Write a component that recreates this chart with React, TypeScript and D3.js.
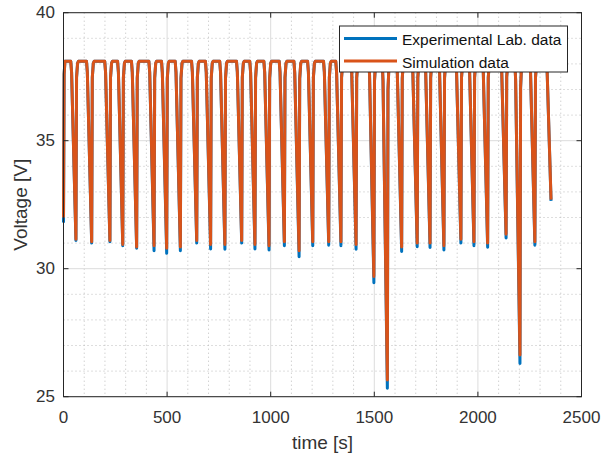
import React from "react";
import * as d3 from "d3";

// ---- data ----
const dipTimes = [60, 136, 224, 286, 353, 437, 498, 564, 643, 710, 779, 860, 924, 992, 1066, 1137, 1203, 1280, 1339, 1412, 1498, 1563, 1632, 1707, 1769, 1836, 1918, 1981, 2047, 2136, 2203, 2275];
const simMin = [31.15, 31.05, 31.1, 30.95, 30.85, 30.9, 30.8, 30.85, 31.1, 30.95, 30.95, 31.1, 30.95, 30.9, 31.05, 30.7, 31.05, 31.05, 31.05, 30.95, 29.7, 25.65, 30.85, 31.0, 31.0, 30.9, 31.15, 31.05, 31.0, 31.35, 26.63, 31.05];
const expMin = [31.1, 31.0, 31.05, 30.9, 30.8, 30.7, 30.6, 30.7, 31.0, 30.77, 30.76, 31.0, 30.77, 30.73, 30.9, 30.47, 30.9, 30.92, 30.9, 30.76, 29.45, 25.33, 30.67, 30.86, 30.83, 30.73, 31.0, 30.9, 30.84, 31.2, 26.3, 30.92];
const plateauV = 38.1;
const simStartV = 32.0;
const expStartV = 31.8;
const endTime = 2353;
const simEndV = 32.7;
const expEndV = 32.65;
// shape of one dip around its minimum: [time offset, fraction of the drop]
const dipShape: [number, number][] = [[-25, 0], [-21, 0.06], [0, 1], [3, 0.09], [8, 0.01], [12, 0]];

const xTicks = [0, 500, 1000, 1500, 2000, 2500];
const yTicks = [25, 30, 35, 40];
const seriesNames = ["Experimental Lab. data", "Simulation data"];
const seriesColors = ["#0072BD", "#D95319"];

function buildSeries(mins: number[], startV: number, endV: number): [number, number][] {
  const pts: [number, number][] = [[0, startV], [3, plateauV - 0.5], [7, plateauV]];
  dipTimes.forEach((t, i) => {
    const drop = plateauV - mins[i];
    dipShape.forEach(([dt, f]) => pts.push([t + dt, plateauV - drop * f]));
  });
  pts.push([endTime - 23, plateauV], [endTime - 19, plateauV - 0.35], [endTime, endV]);
  return pts;
}

export default function App() {
  const W = 604, H = 458;
  const L = 63.5, R = 581.5, T = 12.7, B = 396.7;
  const x = d3.scaleLinear().domain([0, 2500]).range([L, R]);
  const y = d3.scaleLinear().domain([25, 40]).range([B, T]);
  const line = d3.line<[number, number]>().x(d => x(d[0])).y(d => y(d[1]));
  const expPts = buildSeries(expMin, expStartV, expEndV);
  const simPts = buildSeries(simMin, simStartV, simEndV);
  const xMinor = d3.range(0, 2501, 100).filter(v => v % 500 !== 0);
  const yMinor = d3.range(25, 40.01, 1).filter(v => v % 5 !== 0);
  const axisColor = "#262626";
  const textColor = "#333";
  const font = "'Liberation Sans', Arial, sans-serif";
  const tl = 5;
  return (
    <svg width={W} height={H} style={{ position: "absolute", left: 0, top: 0, background: "#fff" }} fontFamily={font}>
      <rect x={0} y={0} width={W} height={H} fill="#fff" />
      {/* minor grid */}
      {xMinor.map(v => (
        <line key={"xm" + v} x1={x(v)} x2={x(v)} y1={T} y2={B} stroke="#bdbdbd" strokeWidth={1} strokeDasharray="1,3" />
      ))}
      {yMinor.map(v => (
        <line key={"ym" + v} x1={L} x2={R} y1={y(v)} y2={y(v)} stroke="#bdbdbd" strokeWidth={1} strokeDasharray="1,3" />
      ))}
      {/* major grid */}
      {xTicks.map(v => (
        <line key={"xg" + v} x1={x(v)} x2={x(v)} y1={T} y2={B} stroke="#dcdcdc" strokeWidth={1} />
      ))}
      {yTicks.map(v => (
        <line key={"yg" + v} x1={L} x2={R} y1={y(v)} y2={y(v)} stroke="#dcdcdc" strokeWidth={1} />
      ))}
      {/* data */}
      <path d={line(expPts) || ""} fill="none" stroke={seriesColors[0]} strokeWidth={3} strokeLinejoin="round" />
      <path d={line(simPts) || ""} fill="none" stroke={seriesColors[1]} strokeWidth={3} strokeLinejoin="round" />
      {/* box */}
      <rect x={L} y={T} width={R - L} height={B - T} fill="none" stroke={axisColor} strokeWidth={1} />
      {/* ticks */}
      {xTicks.map(v => (
        <g key={"xt" + v}>
          <line x1={x(v)} x2={x(v)} y1={B} y2={B - tl} stroke={axisColor} />
          <line x1={x(v)} x2={x(v)} y1={T} y2={T + tl} stroke={axisColor} />
          <text x={x(v)} y={417} textAnchor="middle" dominantBaseline="central" fontSize={17} fill={textColor}>{v}</text>
        </g>
      ))}
      {yTicks.map(v => (
        <g key={"yt" + v}>
          <line x1={L} x2={L + tl} y1={y(v)} y2={y(v)} stroke={axisColor} />
          <line x1={R} x2={R - tl} y1={y(v)} y2={y(v)} stroke={axisColor} />
          <text x={55} y={y(v)} textAnchor="end" dominantBaseline="central" fontSize={17} fill={textColor}>{v}</text>
        </g>
      ))}
      {/* axis labels */}
      <text x={(L + R) / 2} y={442} textAnchor="middle" dominantBaseline="central" fontSize={19} fill={textColor}>time [s]</text>
      <text transform={`translate(20,${(T + B) / 2}) rotate(-90)`} textAnchor="middle" dominantBaseline="central" fontSize={19} fill={textColor}>Voltage [V]</text>
      {/* legend */}
      <rect x={339.5} y={26} width={228} height={46} fill="#fff" stroke={axisColor} strokeWidth={1} />
      {seriesNames.map((n, i) => (
        <g key={n}>
          <line x1={344} x2={397} y1={38.5 + i * 22.5} y2={38.5 + i * 22.5} stroke={seriesColors[i]} strokeWidth={3} />
          <text x={402} y={39.5 + i * 22.5} dominantBaseline="central" fontSize={15.5} fill="#111">{n}</text>
        </g>
      ))}
    </svg>
  );
}
